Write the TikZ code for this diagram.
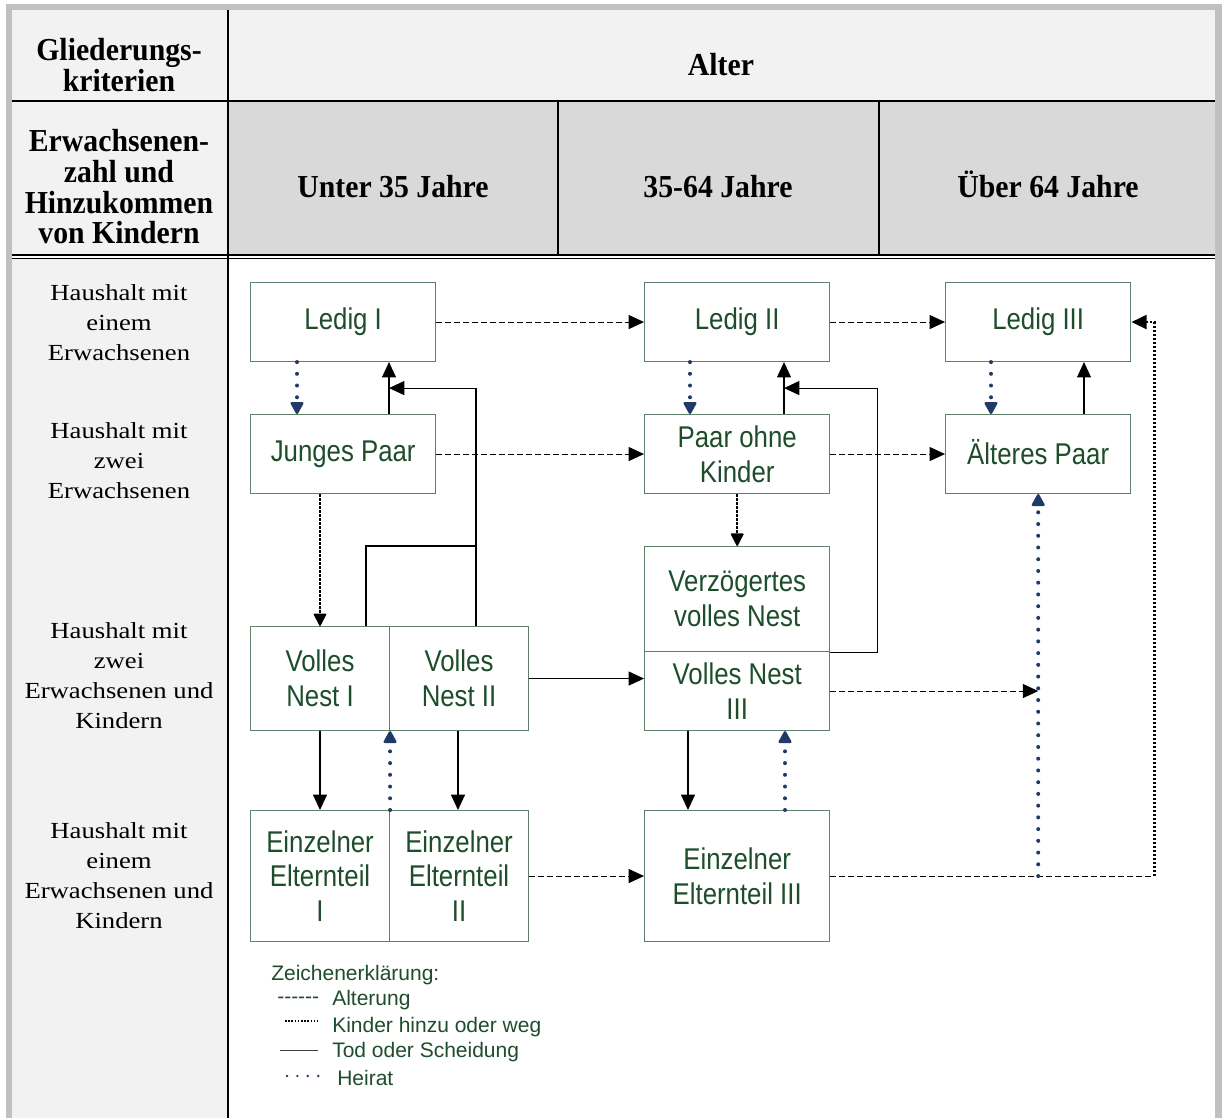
\documentclass[tikz,border=0pt]{standalone}
\usepackage{fontspec}
\setmainfont{Liberation Serif}
\newfontfamily\boxfont[FakeStretch=0.86]{Liberation Sans}
\newfontfamily\hdfont[FakeStretch=0.93]{Liberation Serif}
\newfontfamily\lblfont[FakeStretch=1.16]{Liberation Serif}
\newfontfamily\legfont{Liberation Sans}
\usetikzlibrary{arrows.meta,calc}
\definecolor{boxgreen}{HTML}{5E8068}
\definecolor{txtgreen}{HTML}{1E4D2B}
\definecolor{hblue}{HTML}{1F3A68}
\definecolor{hdgray}{HTML}{F2F2F2}
\definecolor{hdgraytwo}{HTML}{D9D9D9}
\definecolor{framegray}{HTML}{C0C0C0}
\tikzset{
  hd/.style={font=\hdfont\bfseries\fontsize{24}{23}\selectfont, align=center, inner sep=0pt},
  lbl/.style={font=\lblfont\fontsize{17.25}{22.5}\selectfont, align=center, inner sep=0pt},
  hbox/.style={draw=boxgreen, line width=0.8pt, fill=white, text=txtgreen,
    font=\boxfont\fontsize{22.5}{25.9}\selectfont, align=center, inner sep=0pt, anchor=north west},
  wide/.style={minimum width=139pt},
  half/.style={minimum width=104.25pt},
  rowA/.style={minimum height=59.25pt},
  leg/.style={font=\legfont\fontsize{15.75}{19}\selectfont, text=txtgreen, inner sep=0pt, anchor=west},
  tip/.style={-{Triangle[length=11.5pt,width=10.5pt]}},
  aging/.style={draw=black, line width=0.75pt, dash pattern=on 4.5pt off 2.25pt},
  tod/.style={draw=black, line width=0.8pt},
  kids/.style={draw=black, line width=1.9pt, dash pattern=on 1.9pt off 1.1pt},
  kidtip/.style={-{Triangle[length=10pt,width=10pt,round,line width=1pt]}},
  heirat/.style={draw=hblue, line width=3pt, line cap=round, dash pattern=on 0pt off 8.8pt,
    -{Triangle[length=10pt,width=10.5pt,round,line width=1.8pt]}},
}
\begin{document}
\begin{tikzpicture}[x=0.75pt, y=-0.75pt]
\useasboundingbox (0,0) rectangle (1229,1118);
% frame and fills
\fill[framegray] (6,4) rectangle (1222,1118);
\fill[white] (12,10) rectangle (1215,1118);
\fill[hdgray] (12,10) rectangle (1215,101);
\fill[hdgray] (12,101) rectangle (228,256);
\fill[hdgraytwo] (228,101) rectangle (1215,256);
\fill[hdgray] (12,258) rectangle (228,1118);
% table lines
\draw[line width=1pt] (12,101) -- (1215,101);
\draw[line width=0.9pt] (12,255) -- (1215,255);
\draw[line width=0.9pt] (12,258.5) -- (1215,258.5);
\draw[line width=1pt] (558,101) -- (558,255);
\draw[line width=1pt] (879,101) -- (879,255);
\draw[line width=1.6pt] (228,10) -- (228,1118);
% header texts
\node[hd] (h1) at (119,65) {Gliederungs-\\kriterien};
\node[hd] (h2) at (721,65) {Alter};
\node[hd] (h3) at (119,187) {Erwachsenen-\\zahl und\\Hinzukommen\\von Kindern};
\node[hd, anchor=base] (h4) at (393,197.5) {Unter 35 Jahre};
\node[hd, anchor=base] (h5) at (718,197.5) {35-64 Jahre};
\node[hd, anchor=base] (h6) at (1048,197.5) {Über 64 Jahre};
% row labels
\node[lbl] (l1) at (119,323) {Haushalt mit\\einem\\Erwachsenen};
\node[lbl] (l2) at (119,461) {Haushalt mit\\zwei\\Erwachsenen};
\node[lbl] (l3) at (119,676) {Haushalt mit\\zwei\\Erwachsenen und\\Kindern};
\node[lbl] (l4) at (119,876) {Haushalt mit\\einem\\Erwachsenen und\\Kindern};
% boxes
\node[hbox, wide, rowA] (ledigI) at (250,282) {Ledig I};
\node[hbox, wide, rowA] (junges) at (250,414) {Junges Paar};
\node[hbox, wide, rowA] (ledigII) at (644,282) {Ledig II};
\node[hbox, wide, rowA] (paar) at (644,414) {Paar ohne\\Kinder};
\node[hbox, wide, rowA] (ledigIII) at (945,282) {Ledig III};
\node[hbox, wide, rowA] (aelter) at (945,414) {\smash{Ä}lteres Paar};
\node[hbox, wide, minimum height=78.75pt] (verz) at (644,546) {Verzögertes\\volles Nest};
\node[hbox, wide, rowA] (vn3) at (644,651) {Volles Nest\\III};
\node[hbox, half, minimum height=78pt] (vn1) at (250,626) {Volles\\Nest I};
\node[hbox, half, minimum height=78pt] (vn2) at (389,626) {Volles\\Nest II};
\node[hbox, half, minimum height=98.25pt] (ee1) at (250,810) {Einzelner\\Elternteil\\I};
\node[hbox, half, minimum height=98.25pt] (ee2) at (389,810) {Einzelner\\Elternteil\\II};
\node[hbox, wide, minimum height=98.25pt] (ee3) at (644,810) {Einzelner\\Elternteil III};
% helper coordinates
\coordinate (hj) at (aelter.south |- ee3.east);
\coordinate (rc) at ($(ee3.east)+(324,0)$);
% aging (dashed)
\draw[aging, tip] (ledigI) -- (ledigII);
\draw[aging, tip] (ledigII) -- (ledigIII);
\draw[aging, tip] (junges) -- (paar);
\draw[aging, tip] (paar) -- (aelter);
\draw[aging, tip] (ee2) -- (ee3);
\draw[aging, tip] (vn3.east) -- (vn3.east -| hj);
\draw[aging] (ee3.east) -- (rc);
% children (dotted black)
\draw[kids, kidtip] ($(junges.south west)+(70,0)$) -- ($(vn1.north west)+(70,0)$);
\draw[kids, kidtip] (paar.south) -- (verz.north);
\draw[kids, tip] (rc) |- (ledigIII.east);
% death or divorce (solid)
\draw[tod, tip] ($(junges.north west)+(139,0)$) -- ($(ledigI.south west)+(139,0)$);
\draw[tod, tip] ($(vn2.north west)+(87,0)$) |- ($(ledigI.south west)+(139,26)$);
\draw[tod] ($(vn1.north west)+(116,0)$) |- ($(vn2.north west)+(87,-80)$);
\draw[tod, tip] ($(paar.north west)+(140,0)$) -- ($(ledigII.south west)+(140,0)$);
\draw[tod, tip] (verz.south east) -- ++(47,0) |- ($(ledigII.south west)+(140,26)$);
\draw[tod, tip] (vn2.east) -- (vn2.east -| vn3.west);
\draw[tod, tip] ($(vn1.south west)+(70,0)$) -- ($(ee1.north west)+(70,0)$);
\draw[tod, tip] ($(vn2.south west)+(69,0)$) -- ($(ee2.north west)+(69,0)$);
\draw[tod, tip] ($(vn3.south west)+(44,0)$) -- ($(ee3.north west)+(44,0)$);
\draw[tod, tip] ($(aelter.north west)+(139,0)$) -- ($(ledigIII.south west)+(139,0)$);
% marriage (blue dotted)
\draw[heirat] ($(ledigI.south west)+(47,0)$) -- ($(junges.north west)+(47,0)$);
\draw[heirat] ($(ledigII.south west)+(46,0)$) -- ($(paar.north west)+(46,0)$);
\draw[heirat] ($(ledigIII.south west)+(46,0)$) -- ($(aelter.north west)+(46,0)$);
\draw[heirat] (ee1.north east) -- (vn1.south east);
\draw[heirat] ($(ee3.north west)+(141,0)$) -- ($(vn3.south west)+(141,0)$);
\draw[heirat] (hj) -- (aelter.south);
% legend
\node[leg] (lg0) at (271,975) {Zeichenerklärung:};
\node[leg] (lgd) at (277,1000) {-{}-{}-{}-{}-{}-};
\node[leg] (lg1) at (332,1000) {Alterung};
\node[leg] (lg2) at (332,1027) {Kinder hinzu oder weg};
\node[leg] (lg3) at (332,1052) {Tod oder Scheidung};
\node[leg] (lg4) at (337,1078) {Heirat};
\draw[black, line width=0.9pt, dash pattern=on 1.2pt off 1.2pt] (285,1021) -- (318,1021);
\draw[black!75, line width=0.75pt] (280,1050) -- (318,1050);
\draw[hblue, line width=2pt, line cap=round, dash pattern=on 0pt off 7.8pt] (287,1076) -- (318.5,1076);
\end{tikzpicture}
\end{document}
